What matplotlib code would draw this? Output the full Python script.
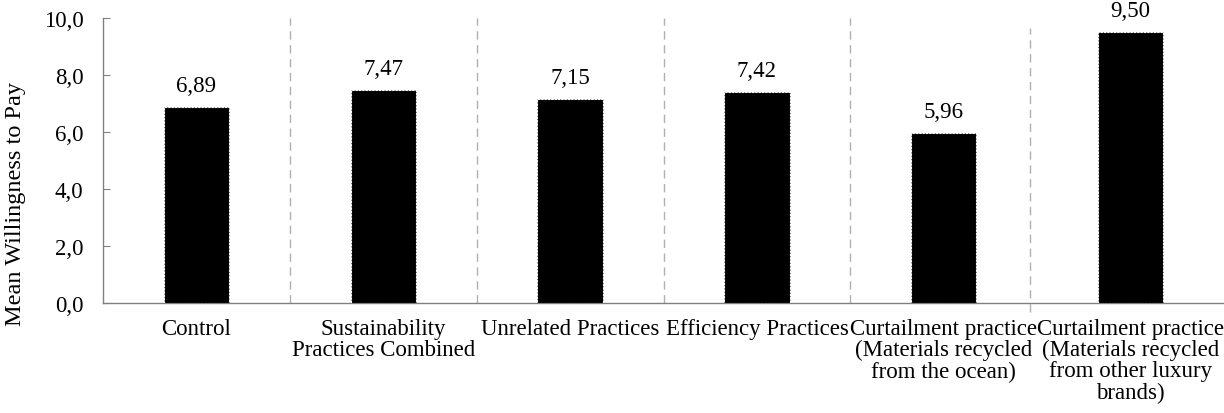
import matplotlib
matplotlib.use("Agg")
import matplotlib.pyplot as plt

categories = [
    "Control",
    "Sustainability\nPractices Combined",
    "Unrelated Practices",
    "Efficiency Practices",
    "Curtailment practice\n(Materials recycled\nfrom the ocean)",
    "Curtailment practice\n(Materials recycled\nfrom other luxury\nbrands)",
]
means = [6.89, 7.47, 7.15, 7.42, 5.96, 9.50]
y_ticks = [0, 2, 4, 6, 8, 10]

plt.rcParams["font.family"] = ["Liberation Serif", "DejaVu Serif"]
FS = 16.5

fig = plt.figure(figsize=(12.24, 4.14), dpi=100)
ax = fig.add_axes([0.0842, 0.2657, 0.9158, 0.6883])

x = list(range(len(categories)))
bars = ax.bar(x, means, width=0.35, color="black", edgecolor="white",
              linewidth=0.8, linestyle=(0, (2, 1)), zorder=3)

for xi, v in zip(x, means):
    ax.text(xi, v + 0.38, f"{v:.2f}".replace(".", ","), ha="center",
            va="bottom", fontsize=FS)

# group separators
for b in [0.5, 1.5, 2.5, 3.5]:
    ax.plot([b, b], [0, 10], color="#b0b0b0", linestyle=(0, (6, 4)),
            linewidth=1, zorder=1, clip_on=False)
ax.plot([4.46, 4.46], [-0.3, 9.65], color="#b0b0b0", linestyle=(0, (6, 4)),
        linewidth=1, zorder=1, clip_on=False)

ax.set_xlim(-0.5, 5.5)
ax.set_ylim(0, 10)
ax.set_yticks(y_ticks)
ax.set_yticklabels([f"{t:.1f}".replace(".", ",") for t in y_ticks], fontsize=FS)
ax.set_xticks(x)
ax.set_xticklabels(categories, fontsize=FS, linespacing=1.0)
ax.tick_params(axis="x", length=0, pad=11)
ax.tick_params(axis="y", direction="in", length=5, color="#808080", pad=14)

for side in ["top", "right"]:
    ax.spines[side].set_visible(False)
for side in ["left", "bottom"]:
    ax.spines[side].set_color("#808080")
    ax.spines[side].set_linewidth(1)

ax.set_ylabel("Mean Willingness to Pay", fontsize=17.5)
ax.yaxis.set_label_coords(-0.0685, 0.35)

fig.savefig("out.png", dpi=100)
